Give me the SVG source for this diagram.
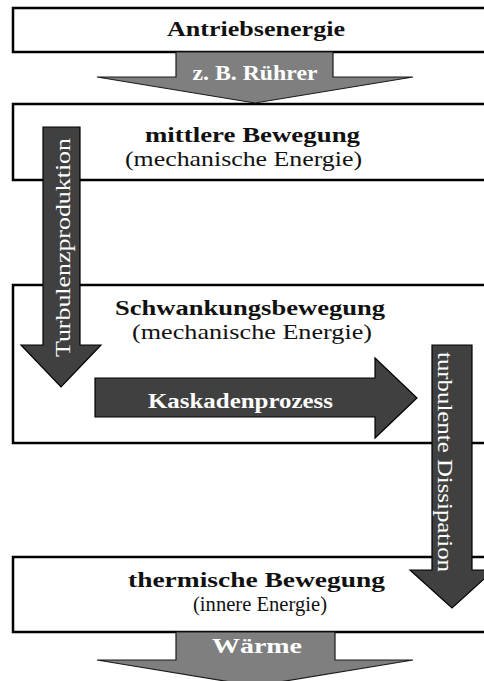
<svg xmlns="http://www.w3.org/2000/svg" width="484" height="681" viewBox="0 0 484 681">
  <style>
    .box { fill: #ffffff; stroke: #000000; stroke-width: 2.5; }
    .flow { fill: #7f7f7f; stroke: #1a1a1a; stroke-width: 1.2; stroke-linejoin: miter; }
    .dark { fill: #404040; stroke: #000000; stroke-width: 1.2; stroke-linejoin: miter; }
    text { font-family: "Liberation Serif", "Times New Roman", serif; text-anchor: middle; }
    .head { font-size: 21px; font-weight: bold; fill: #111111; }
    .sub { font-size: 21px; fill: #111111; }
    .lbl { font-size: 20px; font-weight: bold; fill: #ffffff; }
    .vlbl { font-size: 22px; fill: #ffffff; }
  </style>

  <!-- energy levels -->
  <g id="antriebsenergie">
    <rect class="box" x="13" y="8" width="480" height="44"/>
    <text class="head" x="256" y="36" textLength="178" lengthAdjust="spacingAndGlyphs">Antriebsenergie</text>
  </g>

  <g id="mittlere-bewegung">
    <rect class="box" x="13" y="104" width="480" height="76"/>
    <text class="head" x="252.5" y="142" textLength="215" lengthAdjust="spacingAndGlyphs">mittlere Bewegung</text>
    <text class="sub" x="243.5" y="166" textLength="237" lengthAdjust="spacingAndGlyphs">(mechanische Energie)</text>
  </g>

  <g id="schwankungsbewegung">
    <rect class="box" x="13" y="285" width="480" height="158"/>
    <text class="head" x="250" y="315" textLength="270" lengthAdjust="spacingAndGlyphs">Schwankungsbewegung</text>
    <text class="sub" x="252" y="339" textLength="240" lengthAdjust="spacingAndGlyphs">(mechanische Energie)</text>
  </g>

  <g id="thermische-bewegung">
    <rect class="box" x="13" y="557" width="480" height="75"/>
    <text class="head" x="256.5" y="587" textLength="257" lengthAdjust="spacingAndGlyphs">thermische Bewegung</text>
    <text class="sub" x="260" y="611" textLength="134" lengthAdjust="spacingAndGlyphs">(innere Energie)</text>
  </g>

  <!-- transfer arrows -->
  <g id="connectors">
    <g id="ruehrer">
      <polygon class="flow" points="176,52 333,52 333,77 413,77 255,103 97,77 176,77"/>
      <text class="lbl" x="255" y="80" textLength="125" lengthAdjust="spacingAndGlyphs">z. B. Rührer</text>
    </g>
    <g id="turbulenzproduktion">
      <polygon class="dark" points="43,127 80,127 80,345 101,345 61,387 21,345 43,345"/>
      <text class="vlbl" transform="translate(70,247.5) rotate(-90)" x="0" y="0" textLength="219" lengthAdjust="spacingAndGlyphs">Turbulenzproduktion</text>
    </g>
    <g id="kaskadenprozess">
      <polygon class="dark" points="95,378 375,378 375,358 417,398 375,438 375,417 95,417"/>
      <text class="lbl" x="240.5" y="408" textLength="185" lengthAdjust="spacingAndGlyphs">Kaskadenprozess</text>
    </g>
    <g id="dissipation">
      <polygon class="dark" points="432,345 472,345 472,570 494,570 452,608 410,570 432,570"/>
      <text class="vlbl" transform="translate(438,462) rotate(90)" x="0" y="0" textLength="220" lengthAdjust="spacingAndGlyphs">turbulente Dissipation</text>
    </g>
    <g id="waerme">
      <polygon class="flow" points="176,632 335,632 335,660 413,660 255,686 97,660 176,660"/>
      <text class="lbl" x="257" y="653" textLength="90" lengthAdjust="spacingAndGlyphs">Wärme</text>
    </g>
  </g>
</svg>
